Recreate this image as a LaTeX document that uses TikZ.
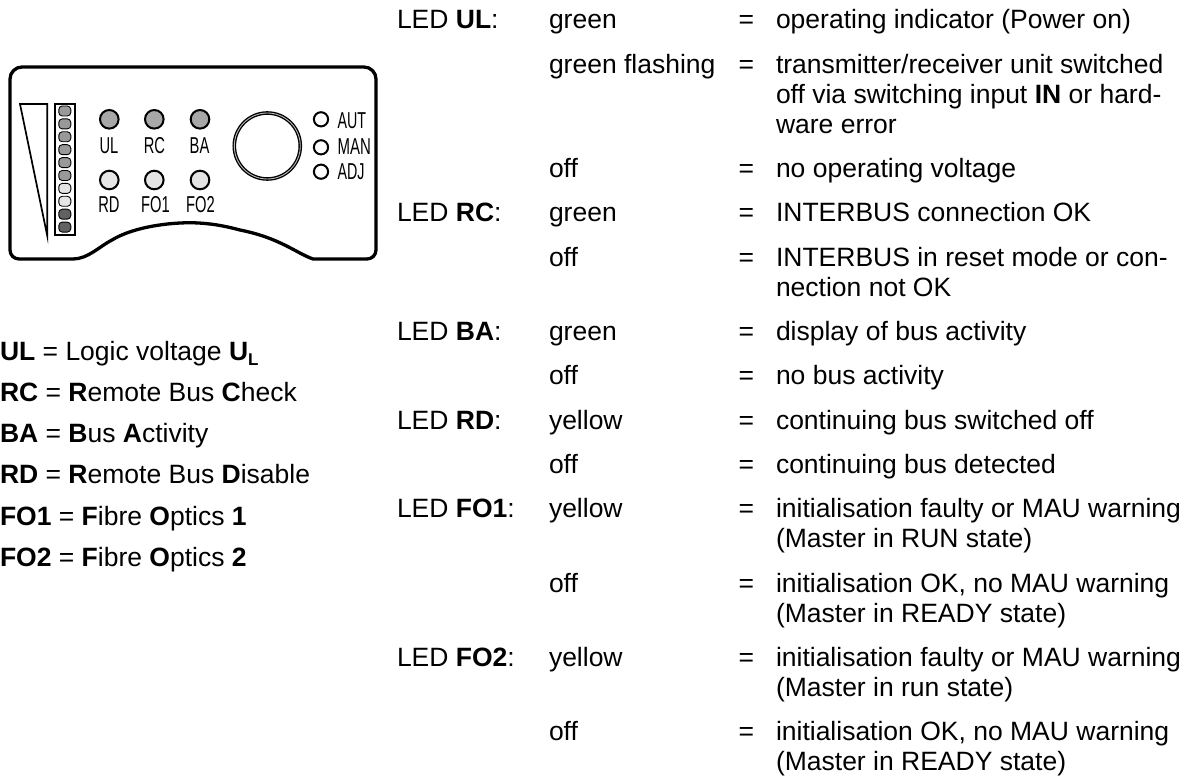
\documentclass[tikz,border=0pt]{standalone}
\usepackage{fontspec}
\setmainfont{Liberation Sans}
\newcommand{\txtsize}{\fontsize{26.5}{30}\selectfont}
\definecolor{ledgray}{gray}{.66}
\definecolor{ledlight}{gray}{.9}
\definecolor{segmid}{gray}{.6}
\definecolor{segdark}{gray}{.38}
\definecolor{ringgray}{gray}{.72}
\tikzset{
  txt/.style={anchor=base west,inner sep=0,outer sep=0,font=\txtsize},
  lab/.style={anchor=base,inner sep=0,font=\fontsize{23}{24}\selectfont,xscale=.64,transform shape},
  labw/.style={anchor=base west,inner sep=0,font=\fontsize{23}{24}\selectfont,xscale=.62,transform shape},
  ledbase/.style={circle,draw=black,line width=2pt,inner sep=0,outer sep=0},
  ledon/.style={ledbase,fill=ledgray,minimum size=18.6pt},
  ledoff/.style={ledbase,fill=ledlight,minimum size=18.6pt},
  ledw/.style={ledbase,fill=white,minimum size=14.2pt},
  seg/.style={rounded corners=3.5pt,draw=black,line width=.9pt,minimum width=12pt,minimum height=10pt,inner sep=0,outer sep=0},
  housing/.style={line width=3.3pt,line join=round},
  frameline/.style={line width=1.7pt,line join=miter}
}
\begin{document}
\begin{tikzpicture}[x=1pt,y=-1pt]
\useasboundingbox (0,0) rectangle (1195,778);
% housing
\draw[housing] (22,67) -- (364,67) .. controls (370.6,67) and (376,72.4) .. (376,79) -- (376,250)
  .. controls (376,255) and (372,259) .. (367,259) -- (313,259)
  .. controls (296,253) and (280,238) .. (240,230)
  .. controls (225,226) and (210,223) .. (190,222.7)
  .. controls (160,223) and (130,229) .. (112,240)
  .. controls (100,246) and (88,259) .. (73,259)
  -- (19,259) .. controls (14,259) and (10,255) .. (10,250) -- (10,79)
  .. controls (10,72.4) and (15.4,67) .. (22,67) -- cycle;
% wedge and bar frame
\draw[frameline] (20,104) -- (47.3,104) -- (47.3,236) -- cycle;
\draw[frameline] (55,104) rectangle (75,235);
\foreach \i/\c in {0/segmid,1/segmid,2/segmid,3/segmid,4/segmid,5/segmid,6/ledlight,7/ledlight,8/segdark,9/segdark}
  \node[seg,fill=\c] (seg\i) at (64.8,{111+12.9*\i}) {};
% LEDs
\node[ledon] (ledUL) at (109.3,119.3) {};
\node[ledon] (ledRC) at (154.3,119.3) {};
\node[ledon] (ledBA) at (200,119.3) {};
\node[ledoff] (ledRD) at (109.3,180) {};
\node[ledoff] (ledFA) at (154.3,180) {};
\node[ledoff] (ledFB) at (200,180) {};
\node[lab] (labUL) at (109,154) {UL};
\node[lab] (labRC) at (154.5,154) {RC};
\node[lab] (labBA) at (199.5,154) {BA};
\node[lab] (labRD) at (109,212.6) {RD};
\node[lab] (labFA) at (155.5,212.6) {FO1};
\node[lab] (labFB) at (200.5,212.6) {FO2};
% big ring
\draw[line width=3.6pt] (267.3,146) circle[radius=33];
\draw[line width=.9pt,ringgray] (267.3,146) circle[radius=33];
% mode LEDs
\node[ledw] (ledAUT) at (321,119.3) {};
\node[ledw] (ledMAN) at (321,147.3) {};
\node[ledw] (ledADJ) at (321,171.7) {};
\node[labw] (labAUT) at (337.5,128.3) {AUT};
\node[labw,xscale=1.05] (labMAN) at (337.5,155) {MAN};
\node[labw] (labADJ) at (337.5,180) {ADJ};
% legend
\node[txt] (lgA) at (0,360) {\textbf{UL} = Logic voltage \textbf{U}\raisebox{-.2em}{\fontsize{17}{17}\selectfont\textbf{L}}};
\node[txt] (lgB) at (0,401.3) {\textbf{RC} = \textbf{R}emote Bus \textbf{C}heck};
\node[txt] (lgC) at (0,442.6) {\textbf{BA} = \textbf{B}us \textbf{A}ctivity};
\node[txt] (lgD) at (0,483.9) {\textbf{RD} = \textbf{R}emote Bus \textbf{D}isable};
\node[txt] (lgE) at (0,525.2) {\textbf{FO1} = \textbf{F}ibre \textbf{O}ptics \textbf{1}};
\node[txt] (lgF) at (0,566.5) {\textbf{FO2} = \textbf{F}ibre \textbf{O}ptics \textbf{2}};
% LED headings
\node[txt] (hUL) at (397,29) {LED \textbf{UL}:};
\node[txt] (hRC) at (397,221.9) {LED \textbf{RC}:};
\node[txt] (hBA) at (397,340.5) {LED \textbf{BA}:};
\node[txt] (hRD) at (397,429.1) {LED \textbf{RD}:};
\node[txt] (hFA) at (397,517.7) {LED \textbf{FO1}:};
\node[txt] (hFB) at (397,666.3) {LED \textbf{FO2}:};
% states and equals
\foreach \n/\y/\s in {a/29/green,b/73.3/green flashing,c/177.6/off,d/221.9/green,e/266.2/off,f/340.5/green,g/384.8/off,h/429.1/yellow,i/473.4/off,j/517.7/yellow,k/592/off,l/666.3/yellow,m/740.6/off}{
  \node[txt] (st\n) at (549,\y) {\s};
  \node[txt] (eq\n) at (738.5,\y) {=};
}
% descriptions
\node[txt] (d1) at (776,29) {operating indicator (Power on)};
\node[txt] (d2) at (776,73.3) {transmitter/receiver unit switched};
\node[txt] (d3) at (776,103.3) {off via switching input \textbf{IN} or hard-};
\node[txt] (d4) at (776,133.3) {ware error};
\node[txt] (d5) at (776,177.6) {no operating voltage};
\node[txt] (d6) at (776,221.9) {INTERBUS connection OK};
\node[txt] (d7) at (776,266.2) {INTERBUS in reset mode or con-};
\node[txt] (d8) at (776,296.2) {nection not OK};
\node[txt] (d9) at (776,340.5) {display of bus activity};
\node[txt] (d10) at (776,384.8) {no bus activity};
\node[txt] (d11) at (776,429.1) {continuing bus switched off};
\node[txt] (d12) at (776,473.4) {continuing bus detected};
\node[txt] (d13) at (776,517.7) {initialisation faulty or MAU warning};
\node[txt] (d14) at (776,547.7) {(Master in RUN state)};
\node[txt] (d15) at (776,592) {initialisation OK, no MAU warning};
\node[txt] (d16) at (776,622) {(Master in READY state)};
\node[txt] (d17) at (776,666.3) {initialisation faulty or MAU warning};
\node[txt] (d18) at (776,696.3) {(Master in run state)};
\node[txt] (d19) at (776,740.6) {initialisation OK, no MAU warning};
\node[txt] (d20) at (776,770.6) {(Master in READY state)};
\end{tikzpicture}
\end{document}
